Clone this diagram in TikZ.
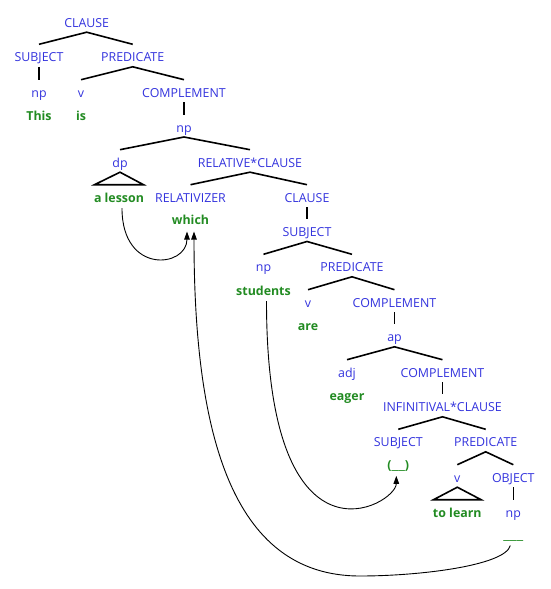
\documentclass[tikz,border=0pt]{standalone}
\usepackage{fontspec}
\usepackage{graphicx}
\setmainfont{Open Sans}
\usetikzlibrary{arrows.meta}
\definecolor{lblblue}{RGB}{51,51,221}
\definecolor{wordgreen}{RGB}{34,139,34}
\begin{document}
\begin{tikzpicture}[x=1pt,y=-1pt,
  lbl/.style={anchor=base,inner sep=0pt,outer sep=0pt,text height=17.5pt,text depth=5pt,text=lblblue,font=\fontsize{12.4}{14}\selectfont},
  word/.style={lbl,text=wordgreen,font=\fontsize{12.4}{14}\selectfont\bfseries},
  branch/.style={draw=black,line width=1.6pt},
  link/.style={draw=black,line width=0.9pt,-{Triangle[length=8pt,width=5.5pt]}}]
\useasboundingbox (0,0) rectangle (551,589);
% labels
\node[lbl] (c1) at (86.7,27.2) {CLAUSE};
\node[lbl] (subj1) at (39,61.8) {SUBJECT};
\node[lbl] (pred1) at (132.7,61.8) {PREDICATE};
\node[lbl] (np1) at (39,97.2) {np};
\node[word] (this) at (39,120.2) {This};
\node[lbl] (v1) at (81,97.2) {v};
\node[word] (is) at (81,120.2) {is};
\node[lbl] (comp1) at (184,97.2) {COMPLEMENT};
\node[lbl] (np2) at (184,132) {np};
\node[lbl] (dp) at (120,167.2) {dp};
\node[lbl] (rc) at (250,167.2) {RELATIVE*CLAUSE};
\node[word] (alesson) at (119,202.2) {a lesson};
\node[lbl] (rel) at (190.5,202.2) {RELATIVIZER};
\node[lbl] (c2) at (307,202.2) {CLAUSE};
\node[word] (which) at (190.5,224.5) {which};
\node[lbl] (subj2) at (307,236.5) {SUBJECT};
\node[lbl] (np3) at (263.5,271.8) {np};
\node[lbl] (pred3) at (352,271.8) {PREDICATE};
\node[word] (students) at (263.5,295.2) {students};
\node[lbl] (v3) at (308,307.2) {v};
\node[lbl] (comp3) at (394.5,307.2) {COMPLEMENT};
\node[word] (are) at (308,330.5) {are};
\node[lbl] (ap) at (394.5,341.8) {ap};
\node[lbl] (adj) at (347,377.2) {adj};
\node[lbl] (comp4) at (442.5,377.2) {COMPLEMENT};
\node[word] (eager) at (347,400.2) {eager};
\node[lbl] (inf) at (442.5,411.8) {INFINITIVAL*CLAUSE};
\node[lbl] (subj4) at (398.3,446.8) {SUBJECT};
\node[lbl] (pred4) at (485.7,446.8) {PREDICATE};
\node[word] (blank1) at (398.3,469.8) {(\scalebox{1.3}[1]{\_\_})};
\node[lbl] (v4) at (457.3,482.2) {v};
\node[lbl] (obj) at (513.3,482.2) {OBJECT};
\node[word] (tolearn) at (457.3,517.2) {to learn};
\node[lbl] (np5) at (513.3,517.2) {np};
\node[word] (blank2) at (513.3,539.5) {\scalebox{1.3}[1]{\_\_\_}};
% branches
\draw[branch] (subj1.north) -- (c1.south) -- (pred1.north);
\draw[branch] (subj1.south) -- (np1.north);
\draw[branch] (v1.north) -- (pred1.south) -- (comp1.north);
\draw[branch] (comp1.south) -- (np2.north);
\draw[branch] (dp.north) -- (np2.south) -- (rc.north);
\draw[branch] (dp.south) -- ([xshift=-24.5pt]alesson.north) -- ([xshift=24.5pt]alesson.north) -- cycle;
\draw[branch] (rel.north) -- (rc.south) -- (c2.north);
\draw[branch] (c2.south) -- (subj2.north);
\draw[branch] (np3.north) -- (subj2.south) -- (pred3.north);
\draw[branch] (v3.north) -- (pred3.south) -- (comp3.north);
\draw[branch] (comp3.south) -- (ap.north);
\draw[branch] (adj.north) -- (ap.south) -- (comp4.north);
\draw[branch] (comp4.south) -- (inf.north);
\draw[branch] (subj4.north) -- (inf.south) -- (pred4.north);
\draw[branch] (v4.north) -- (pred4.south) -- (obj.north);
\draw[branch] (v4.south) -- ([xshift=-23.8pt]tolearn.north) -- ([xshift=23.8pt]tolearn.north) -- cycle;
\draw[branch] (obj.south) -- (np5.north);
% links
\coordinate (bend) at (360,576);
\draw[link] ([xshift=3pt,yshift=-1pt]alesson.south) .. controls +(0,67) and +(0,36) .. ([xshift=-3.5pt,yshift=-2pt]which.south);
\draw[link] ([xshift=3pt,yshift=-1pt]students.south) .. controls +(0,279) and +(0,29) .. ([xshift=-2pt,yshift=-1pt]blank1.south);
\draw[link] ([xshift=-3pt,yshift=-1pt]blank2.south) .. controls +(-5,20) and +(60,0) .. (bend) .. controls +(-130,0) and +(0,198) .. ([xshift=3.5pt,yshift=-2pt]which.south);
\end{tikzpicture}
\end{document}
